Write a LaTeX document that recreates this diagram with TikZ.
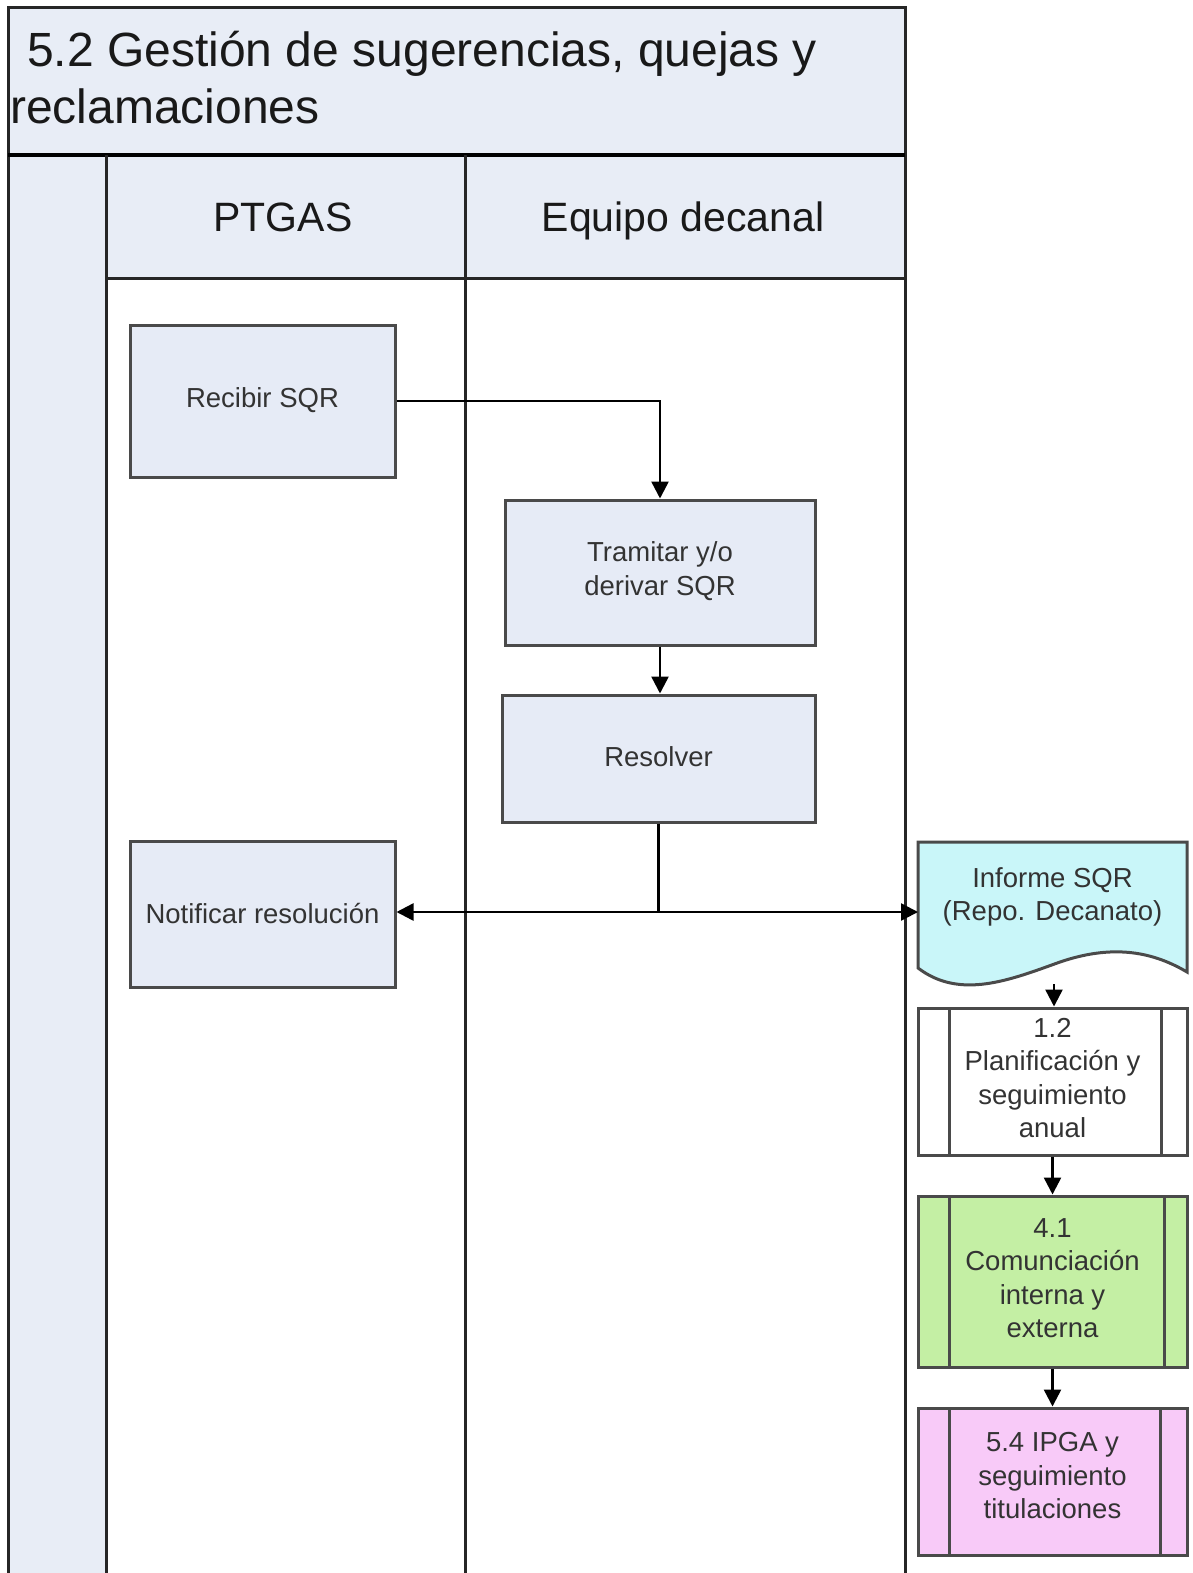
\documentclass[tikz,border=0pt]{standalone}
\usepackage{fontspec}
\setmainfont{Liberation Sans}
\usetikzlibrary{arrows.meta}
\definecolor{lanefill}{HTML}{E8EDF6}
\definecolor{boxfill}{HTML}{E6EBF6}
\definecolor{boxline}{HTML}{4A4A4A}
\definecolor{infofill}{HTML}{C9F6F9}
\definecolor{greenfill}{HTML}{C4EFA4}
\definecolor{pinkfill}{HTML}{F8CAF8}
\definecolor{txt}{HTML}{333333}
\tikzset{
  lane/.style={draw=black!85, line width=3pt},
  actbox/.style={draw=boxline, fill=boxfill, line width=3pt, align=center, text=txt,
    font=\fontsize{27.5}{33.5}\selectfont, inner sep=0pt},
  procbox/.style={draw=boxline, line width=3pt, inner sep=0pt, minimum width=269pt},
  boxtext/.style={align=center, text=txt, font=\fontsize{27.5}{33.5}\selectfont, inner sep=0pt},
  arr/.style={draw=black, line width=2.5pt, -{Triangle[width=17pt,length=17pt]}},
  conn/.style={draw=black, line width=2.5pt}
}
\begin{document}
\begin{tikzpicture}[x=1pt,y=-1pt]
\useasboundingbox (0,0) rectangle (1192,1573);
\fill[white] (0,0) rectangle (1192,1573);
% title band
\fill[lanefill] (8,8) rectangle (905,155);
\fill[lanefill] (8,155) rectangle (106,1573);
\fill[lanefill] (106,155) rectangle (905,278);
\draw[lane] (8,1573) -- (8,8) -- (905,8) -- (905,1573);
\draw[black, line width=4.5pt] (8,155) -- (905,155);
\draw[lane] (106,155) -- (106,1573);
\draw[lane] (465,155) -- (465,1573);
\draw[lane] (106,278) -- (905,278);
\node[anchor=base west, inner sep=0pt, font=\fontsize{48}{56}\selectfont, text=black!90] (title1) at (27,67) {5.2 Gestión de sugerencias, quejas y};
\node[anchor=base west, inner sep=0pt, font=\fontsize{48}{56}\selectfont, text=black!90] (title2) at (10,124) {reclamaciones};
\node[anchor=base, inner sep=0pt, font=\fontsize{41}{48}\selectfont, text=black!90] (h1) at (283,231) {PTGAS};
\node[anchor=base, inner sep=0pt, font=\fontsize{41}{48}\selectfont, text=black!90] (h2) at (683,231) {Equipo decanal};
% activity boxes
\node[actbox, minimum width=265pt, minimum height=152pt] (rec) at (262.5,401) {};
\node[boxtext] at (262.5,400) {Recibir SQR};
\node[actbox, minimum width=310pt, minimum height=145pt] (tra) at (660,572.5) {};
\node[boxtext] at (660,571) {Tramitar y/o\\derivar SQR};
\node[actbox, minimum width=313pt, minimum height=127pt] (res) at (658.5,758.5) {};
\node[boxtext] at (658.5,757) {Resolver};
\node[actbox, minimum width=265pt, minimum height=146pt] (notif) at (262.5,914) {};
\node[boxtext] at (262.5,913) {Notificar resolución};
% document shape
\node[inner sep=0pt, minimum width=269pt, minimum height=130pt, anchor=north west] (inf) at (918,842) {};
\draw[draw=boxline, fill=infofill, line width=3pt]
  (918,842) -- (1187,842) -- (1187,972)
  .. controls (1150,950) and (1110,945) .. (1060,962)
  .. controls (1010,980) and (960,1000) .. (918,968) -- cycle;
\node[boxtext] at (1052.5,897) {Informe SQR\\(Repo. Decanato)};
\coordinate (infb) at (1054,984);
% predefined processes
\node[procbox, fill=white, minimum height=147pt] (p12) at (1052.5,1081.5) {};
\draw[boxline, line width=3pt] (949,1008) -- (949,1155) (1161,1008) -- (1161,1155);
\node[boxtext] at (1052.5,1078) {1.2\\Planificación y\\seguimiento\\anual};
\node[procbox, fill=greenfill, minimum height=171pt] (p41) at (1052.5,1281.5) {};
\draw[boxline, line width=3pt] (949,1196) -- (949,1367) (1164,1196) -- (1164,1367);
\node[boxtext] at (1052.5,1278) {4.1\\Comunciación\\interna y\\externa};
\node[procbox, fill=pinkfill, minimum height=147pt] (p54) at (1052.5,1481.5) {};
\draw[boxline, line width=3pt] (949,1408) -- (949,1555) (1160,1408) -- (1160,1555);
\node[boxtext] at (1052.5,1476) {5.4 IPGA y\\seguimiento\\titulaciones};
% connectors
\draw[arr] (rec.east) -| (tra.north);
\draw[arr] (tra.south) -- (tra.south |- res.north);
\coordinate (j) at (res.south |- 0,912);
\draw[conn] (res.south) -- (j);
\draw[arr] (j) -- (notif.east |- j);
\draw[arr] (j) -- (inf.west |- j);
\draw[arr] (infb) -- (infb |- p12.north);
\draw[arr] (p12.south) -- (p41.north);
\draw[arr] (p41.south) -- (p54.north);
\end{tikzpicture}
\end{document}
